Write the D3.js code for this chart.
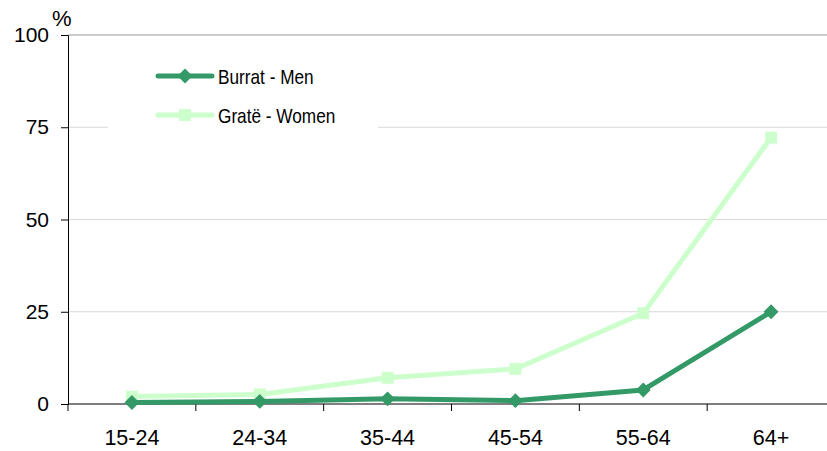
<!DOCTYPE html>
<meta charset="utf-8">
<style>
  body { margin: 0; background: #fff; }
  text { font-family: "Liberation Sans", Arial, sans-serif; fill: #000; }
</style>
<script src="https://cdn.jsdelivr.net/npm/d3@7"></script>
<svg id="chart" width="827" height="451"></svg>
<script>
// age groups and shares (%)
const ageGroups = ["15-24", "24-34", "35-44", "45-54", "55-64", "64+"];
const men   = [0.4, 0.7, 1.4, 0.9, 3.8, 25.0];
const women = [2.0, 2.6, 7.1, 9.5, 24.6, 72.2];
const yTicks = [0, 25, 50, 75, 100];

const series = [
  { name: "Burrat - Men", values: men, color: "#339966", shape: d3.symbolDiamond2, size: 140 },
  { name: "Gratë - Women", values: women, color: "#ccffcc", shape: d3.symbolSquare2, size: 180 }
];

const svg = d3.select("#chart");

const x = d3.scaleBand().domain(ageGroups).range([68, 835]);
const y = d3.scaleLinear().domain([0, 100]).range([404, 35]);

// gridlines
svg.append("g")
  .selectAll("line")
  .data(yTicks.filter(d => d > 0))
  .join("line")
  .attr("x1", 68).attr("x2", 827)
  .attr("y1", d => y(d)).attr("y2", d => y(d))
  .attr("stroke", d => d === 100 ? "#999" : "#d9d9d9")
  .attr("stroke-width", 1);

// y axis
const yAxis = svg.append("g")
  .attr("transform", "translate(68,0)")
  .call(d3.axisLeft(y).tickValues(yTicks).tickSize(7).tickPadding(12));
yAxis.select(".domain").attr("stroke", "#000");
yAxis.selectAll("text")
  .style("font-size", "21px")
  .attr("dy", "0.32em");

svg.append("text")
  .attr("x", 52).attr("y", 26)
  .style("font-size", "22px")
  .text("%");

// x axis with boundary ticks
const xAxis = svg.append("g").attr("transform", "translate(0,404)");
xAxis.append("line")
  .attr("x1", 68).attr("x2", 827)
  .attr("stroke", "#000");
xAxis.selectAll(".tk")
  .data(ageGroups)
  .join("line")
  .attr("class", "tk")
  .attr("x1", d => x(d)).attr("x2", d => x(d))
  .attr("y1", 0).attr("y2", 7)
  .attr("stroke", "#000");
xAxis.selectAll(".lbl")
  .data(ageGroups)
  .join("text")
  .attr("class", "lbl")
  .attr("x", d => x(d) + x.bandwidth() / 2)
  .attr("y", 41)
  .attr("text-anchor", "middle")
  .style("font-size", "21.5px")
  .text(d => d);

// lines and markers
const line = d3.line()
  .x((d, i) => x(ageGroups[i]) + x.bandwidth() / 2)
  .y(d => y(d));

const seriesG = svg.append("g")
  .selectAll("g")
  .data(series.slice().reverse())
  .join("g");

seriesG.append("path")
  .attr("d", d => line(d.values))
  .attr("fill", "none")
  .attr("stroke", d => d.color)
  .attr("stroke-width", 5)
  .attr("stroke-linejoin", "round");

seriesG.selectAll("path.m")
  .data(d => d.values.map((v, i) => ({ v, i, s: d })))
  .join("path")
  .attr("class", "m")
  .attr("transform", d => `translate(${x(ageGroups[d.i]) + x.bandwidth() / 2},${y(d.v)})`)
  .attr("d", d => d3.symbol().type(d.s.shape).size(d.s.size)())
  .attr("fill", d => d.s.color);

// legend
const legend = svg.append("g").attr("transform", "translate(108,58)");
legend.append("rect")
  .attr("width", 270).attr("height", 80)
  .attr("fill", "#fff");

const item = legend.selectAll("g")
  .data(series)
  .join("g")
  .attr("transform", (d, i) => `translate(0,${18 + i * 39})`);

item.append("line")
  .attr("x1", 50).attr("x2", 104)
  .attr("stroke", d => d.color)
  .attr("stroke-width", 5)
  .attr("stroke-linecap", "round");
item.append("path")
  .attr("transform", "translate(77,0)")
  .attr("d", d => d3.symbol().type(d.shape).size(d.size)())
  .attr("fill", d => d.color);
item.append("text")
  .attr("transform", "translate(110,7.5) scale(0.82,1)")
  .style("font-size", "21px")
  .text(d => d.name);
</script>
